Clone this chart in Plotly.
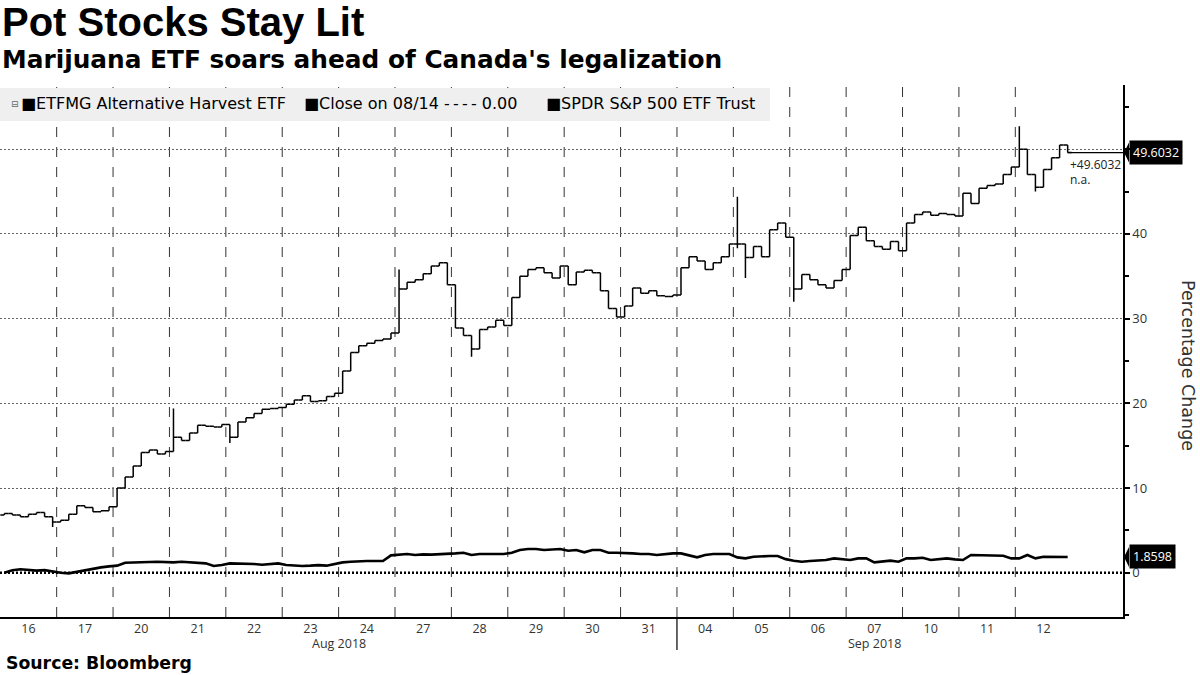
import plotly.graph_objects as go

# ---------------- data ----------------
day_labels = ["16", "17", "20", "21", "22", "23", "24", "27", "28", "29", "30", "31",
              "04", "05", "06", "07", "10", "11", "12"]
month_labels = ["Aug 2018", "Sep 2018"]
month_label_pos = [6.0, 15.5]          # in trading-day units
month_boundary = 12                    # Aug 31 | Sep 04
bars_per_day = 7

# ETFMG Alternative Harvest ETF, hourly closes (% change vs 08/14 close)
etf_close = [
    7.0, 6.8, 6.6, 6.9, 7.1, 6.6, 6.0,        # Aug 16
    6.2, 6.9, 7.9, 7.7, 7.2, 7.3, 7.8,        # Aug 17
    10.0, 11.3, 12.6, 14.2, 14.5, 14.0, 14.3, # Aug 20
    16.0, 15.6, 16.5, 17.4, 17.3, 17.2, 17.5, # Aug 21
    16.0, 17.8, 18.3, 18.8, 19.3, 19.4, 19.5, # Aug 22
    19.9, 20.4, 20.9, 20.2, 20.3, 20.8, 21.2, # Aug 23
    23.8, 26.0, 26.8, 27.1, 27.4, 27.6, 28.3, # Aug 24
    33.5, 34.3, 34.6, 35.3, 36.2, 36.6, 34.0, # Aug 27
    28.9, 28.0, 26.4, 28.7, 29.0, 29.8, 29.2, # Aug 28
    32.5, 35.0, 35.8, 36.0, 35.4, 34.8, 36.2, # Aug 29
    34.0, 35.5, 35.7, 35.4, 33.3, 31.2, 30.2, # Aug 30
    31.5, 33.6, 33.0, 33.3, 32.7, 32.6, 32.8, # Aug 31
    36.0, 37.3, 36.8, 35.8, 36.6, 37.3, 38.8, # Sep 04
    38.8, 37.2, 38.5, 37.3, 40.5, 41.3, 39.6, # Sep 05
    33.5, 35.2, 34.6, 34.0, 33.6, 34.5, 35.8, # Sep 06
    39.8, 40.8, 39.2, 38.5, 38.2, 39.1, 38.0, # Sep 07
    41.3, 42.3, 42.6, 42.2, 42.4, 42.3, 42.1, # Sep 10
    44.8, 43.6, 45.4, 45.7, 45.9, 47.0, 47.9, # Sep 11
    50.0, 47.0, 45.5, 47.6, 49.0, 50.5, 49.6032,  # Sep 12
]
etf_first_open = 6.8
# intrabar extremes that reach beyond open/close (bar index, high, low)
spike_index = [6, 21, 28, 49, 58, 91, 92, 98, 126, 128]
spike_high = [6.6, 19.4, 17.5, 35.8, 28.0, 44.4, 38.8, 39.6, 52.7, 47.0]
spike_low = [5.4, 14.3, 15.3, 28.3, 25.5, 38.3, 34.8, 32.0, 47.9, 45.0]

# SPDR S&P 500 ETF Trust, hourly (% change vs 08/14 close)
spy_close = [
    0.0, 0.3, 0.4, 0.3, 0.25, 0.3, 0.12,
    0.0, -0.08, 0.12, 0.3, 0.5, 0.63, 0.75,
    0.83, 1.18, 1.18, 1.2, 1.26, 1.3, 1.22,
    1.22, 1.3, 1.26, 1.18, 1.1, 0.8, 0.9,
    1.1, 1.1, 1.06, 1.02, 0.94, 1.02, 1.1,
    0.9, 0.83, 0.8, 0.83, 0.9, 0.83, 1.06,
    1.22, 1.3, 1.38, 1.38, 1.38, 1.38, 2.05,
    2.09, 2.2, 2.09, 2.16, 2.13, 2.16, 2.2,
    2.28, 2.36, 2.09, 2.2, 2.2, 2.2, 2.2,
    2.36, 2.68, 2.8, 2.8, 2.68, 2.76, 2.8,
    2.6, 2.68, 2.4, 2.68, 2.68, 2.36, 2.36,
    2.36, 2.28, 2.2, 2.2, 2.09, 2.2, 2.28,
    2.28, 2.09, 1.81, 2.09, 2.2, 2.2, 2.2,
    1.81, 1.69, 1.89, 1.97, 1.97, 1.97, 1.6,
    1.42, 1.3, 1.38, 1.42, 1.5, 1.69, 1.57,
    1.5, 1.69, 1.69, 1.22, 1.3, 1.42, 1.3,
    1.69, 1.69, 1.77, 1.5, 1.57, 1.69, 1.57,
    1.5, 2.09, 2.09, 2.09, 2.05, 2.01, 1.69,
    1.69, 2.09, 1.69, 1.89, 1.89, 1.85, 1.8598,
]
base_close = 0.0   # Close on 08/14
y_ticks = [0, 10, 20, 30, 40, 50]

# ---------------- derived ----------------
n_days = len(day_labels)
x_bar = [d + (k + 0.5) / bars_per_day for d in range(n_days) for k in range(bars_per_day)]
etf_open = [etf_first_open] + etf_close[:-1]
etf_high = [max(o, c) for o, c in zip(etf_open, etf_close)]
etf_low = [min(o, c) for o, c in zip(etf_open, etf_close)]
for i, h, l in zip(spike_index, spike_high, spike_low):
    etf_high[i] = max(etf_high[i], h)
    etf_low[i] = min(etf_low[i], l)

# ---------------- geometry ----------------
W, H = 1200, 675
PL, PR, PT, PB = 0, 1123, 85, 617
X_RANGE = [-0.005, 19.91]
Y_RANGE = [-5.23, 57.58]


def px_x(x):
    return (x - PL) / (PR - PL)


def px_y(y):
    return (PB - y) / (PB - PT)


FONT = "DejaVu Sans"
AXFONT = "Open Sans"
fig = go.Figure()

fig.add_trace(go.Ohlc(
    x=x_bar, open=etf_open, high=etf_high, low=etf_low, close=etf_close,
    increasing=dict(line=dict(color="black", width=1.5)),
    decreasing=dict(line=dict(color="black", width=1.5)),
    tickwidth=0.5, showlegend=False, hoverinfo="skip",
))
fig.add_trace(go.Scatter(
    x=x_bar, y=spy_close, mode="lines",
    line=dict(color="black", width=2.6), showlegend=False, hoverinfo="skip",
))

shapes = []
# day separators
for b in range(1, n_days):
    shapes.append(dict(type="line", xref="x", yref="paper", x0=b, x1=b, y0=0, y1=1,
                       line=dict(color="#333333", width=1, dash="10px,10px"), layer="below"))
# month tick below axis
shapes.append(dict(type="line", xref="x", yref="paper", x0=month_boundary, x1=month_boundary,
                   y0=0, y1=px_y(650), line=dict(color="black", width=1.2)))
# base (Close on 08/14) dotted line
shapes.append(dict(type="line", xref="paper", yref="y", x0=0, x1=1, y0=base_close, y1=base_close,
                   line=dict(color="black", width=2.5, dash="2px,2px"), layer="above"))
# last price line
shapes.append(dict(type="line", xref="x", yref="y", x0=x_bar[-1], x1=X_RANGE[1],
                   y0=etf_close[-1], y1=etf_close[-1], line=dict(color="black", width=1.2)))
# legend background
shapes.append(dict(type="rect", xref="paper", yref="paper", x0=0, x1=px_x(770),
                   y0=px_y(121), y1=px_y(88), fillcolor="#efefef", line=dict(width=0), layer="above"))
# value label pointers
dy = 10 / ((PB - PT) / (Y_RANGE[1] - Y_RANGE[0]))
for v in (etf_close[-1], spy_close[-1]):
    x1 = px_x(PR + 6)
    x0 = px_x(PR + 1)
    shapes.append(dict(type="path", xref="paper", yref="y",
                       path=f"M {x0},{v} L {x1},{v + dy} L {x1},{v - dy} Z",
                       fillcolor="black", line=dict(width=0), layer="above"))

annotations = []
# titles
annotations.append(dict(text="<b>Pot Stocks Stay Lit</b>", x=px_x(0), y=px_y(22), xref="paper", yref="paper",
                        xanchor="left", yanchor="middle", showarrow=False,
                        font=dict(family="Liberation Sans", size=40, color="black")))
annotations.append(dict(text="<b>Marijuana ETF soars ahead of Canada's legalization</b>", x=px_x(0), y=px_y(60),
                        xref="paper", yref="paper", xanchor="left", yanchor="middle", showarrow=False,
                        font=dict(family="DejaVu Sans", size=24.8, color="black")))
annotations.append(dict(text="<b>Source: Bloomberg</b>", x=px_x(4), y=px_y(663), xref="paper", yref="paper",
                        xanchor="left", yanchor="middle", showarrow=False,
                        font=dict(family="DejaVu Sans", size=17.3, color="black")))
# legend
annotations.append(dict(text="⊟", x=px_x(9), y=px_y(104), xref="paper", yref="paper",
                        xanchor="left", yanchor="middle", showarrow=False,
                        font=dict(family=FONT, size=9, color="#666666")))
for txt, xp in [("■ETFMG Alternative Harvest ETF", 19),
                ("■Close on 08/14 -\u2009-\u2009-\u2009- 0.00", 302),
                ("■SPDR S&P 500 ETF Trust", 544)]:
    annotations.append(dict(text=txt, x=px_x(xp), y=px_y(103), xref="paper", yref="paper",
                            xanchor="left", yanchor="middle", showarrow=False,
                            font=dict(family=FONT, size=16, color="black")))
# month labels
for lab, pos in zip(month_labels, month_label_pos):
    annotations.append(dict(text=lab, x=pos, y=px_y(643), xref="x", yref="paper",
                            xanchor="center", yanchor="middle", showarrow=False,
                            font=dict(family=AXFONT, size=12.5, color="#333333")))
# value boxes
for v, txt in [(etf_close[-1], f"{etf_close[-1]:.4f}"), (spy_close[-1], f"{spy_close[-1]:.4f}")]:
    annotations.append(dict(text=txt, x=px_x(PR + 6), y=v, xref="paper", yref="y",
                            xanchor="left", yanchor="middle", showarrow=False,
                            bgcolor="black", borderpad=3,
                            font=dict(family=AXFONT, size=12.5, color="white")))
annotations.append(dict(text=f"+{etf_close[-1]:.4f}", x=px_x(1068), y=px_y(164), xref="paper", yref="paper",
                        xanchor="left", yanchor="middle", showarrow=False,
                        font=dict(family=AXFONT, size=12, color="#222222")))
annotations.append(dict(text="n.a.", x=px_x(1068), y=px_y(179), xref="paper", yref="paper",
                        xanchor="left", yanchor="middle", showarrow=False,
                        font=dict(family=AXFONT, size=12, color="#222222")))
annotations.append(dict(text="Percentage Change", x=px_x(1188), y=px_y(365), xref="paper", yref="paper",
                        xanchor="center", yanchor="middle", showarrow=False, textangle=90,
                        font=dict(family=FONT, size=17.5, color="#333333")))

fig.update_layout(
    width=W, height=H, autosize=False,
    margin=dict(l=PL, r=W - PR, t=PT, b=H - PB, pad=0),
    paper_bgcolor="white", plot_bgcolor="white",
    showlegend=False, shapes=shapes, annotations=annotations,
    font=dict(family=FONT, color="#333333"),
    xaxis=dict(range=X_RANGE, showline=True, linecolor="black", linewidth=1.5,
               tickvals=[d + 0.5 for d in range(n_days)], ticktext=day_labels,
               ticks="", showgrid=False, zeroline=False, rangeslider=dict(visible=False),
               ticklabelstandoff=-1,
               tickfont=dict(family=AXFONT, size=12.5, color="#333333")),
    yaxis=dict(range=Y_RANGE, side="right", showline=True, linecolor="black", linewidth=1.5,
               tickvals=y_ticks, ticktext=[str(t) if t < 50 else "" for t in y_ticks],
               ticks="outside", ticklen=5, tickwidth=2, tickcolor="black",
               showgrid=True, gridcolor="#666666", gridwidth=1, griddash="2px,2px",
               zeroline=False, tickfont=dict(family=AXFONT, size=13, color="#333333"),
               minor=dict(dtick=5, tick0=0, ticks="outside", ticklen=4, tickcolor="black", showgrid=False)),
)

fig.write_html("out.html", config={"displayModeBar": False},
               post_script="document.body.style.margin='0';document.body.style.overflow='hidden';")
